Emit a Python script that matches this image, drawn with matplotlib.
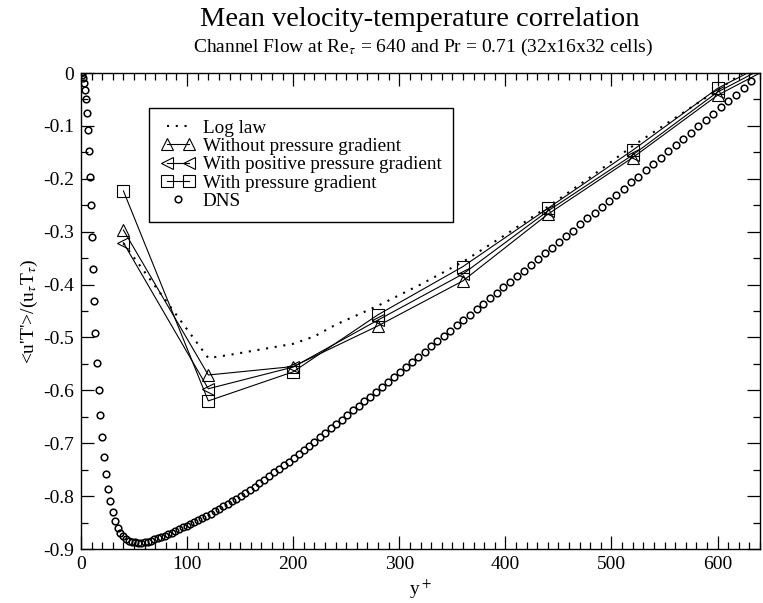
import matplotlib
matplotlib.use("Agg")
import matplotlib.pyplot as plt
from matplotlib.legend_handler import HandlerLine2D
from matplotlib.ticker import MultipleLocator

plt.rcParams["font.family"] = ["Liberation Serif", "DejaVu Serif"]
plt.rcParams["mathtext.fontset"] = "stix"
plt.rcParams["axes.unicode_minus"] = False

# LES sample positions and results
les_y = [40, 120, 200, 280, 360, 440, 520, 600, 640]
without_pg = [-0.297, -0.571, -0.555, -0.478, -0.393, -0.267, -0.160, -0.042, 0.000]
positive_pg = [-0.321, -0.597, -0.556, -0.467, -0.380, -0.261, -0.155, -0.036, 0.006]
with_pg = [-0.223, -0.620, -0.565, -0.457, -0.366, -0.256, -0.146, -0.029, 0.012]

# log law curve
log_y = [40, 120, 140, 160, 180, 200, 220, 240, 280, 320, 360, 400, 440, 480, 520, 560, 600, 640]
log_law = [-0.322, -0.539, -0.533, -0.526, -0.519, -0.512, -0.498, -0.476, -0.440, -0.400,
           -0.357, -0.306, -0.253, -0.197, -0.138, -0.085, -0.032, 0.022]

# DNS profile
dns_y = [0.0, 0.8, 1.7, 2.7, 3.6, 4.5, 5.4, 6.3, 7.2, 8.1, 9.0, 10.0, 11.1, 12.3, 13.6,
         15.0, 16.5, 18.1, 19.8, 21.6, 23.5, 25.5, 27.6, 29.8, 32.1, 34.5, 37.0, 39.6,
         42.3, 45.1, 48.0, 51.0, 54.0, 57.0, 60.0, 63.0, 66.1, 69.2, 72.4, 75.6, 78.9,
         82.2, 85.6, 89.0, 92.5, 96.0, 99.6, 103.2, 106.9, 110.6, 114.4, 118.2, 122.1,
         126.0, 130.0, 134.0, 138.1, 142.2, 146.4, 150.6, 154.9, 159.2, 163.6, 168.0,
         172.5, 177.0, 181.6, 186.2, 190.9, 195.6, 200.4, 205.2, 210.1, 215.0, 220.0,
         225.0, 230.1, 235.2, 240.4, 245.6, 250.9, 256.2, 261.6, 267.0, 272.5, 278.0,
         283.6, 289.2, 294.9, 300.6, 306.4, 312.2, 318.1, 324.0, 330.0, 336.0, 342.0,
         348.1, 354.2, 360.4, 366.6, 372.8, 379.1, 385.4, 391.8, 398.2, 404.6, 411.1,
         417.6, 424.1, 430.7, 437.3, 443.9, 450.5, 457.2, 463.9, 470.6, 477.4, 484.2,
         491.0, 497.8, 504.7, 511.6, 518.5, 525.4, 532.4, 539.4, 546.4, 553.4, 560.4,
         567.5, 574.6, 581.7, 588.8, 595.9, 603.0, 610.2, 617.4, 624.6, 631.8]
dns_uT = [0.000, -0.004, -0.010, -0.019, -0.032, -0.050, -0.075, -0.107, -0.148, -0.196,
          -0.250, -0.310, -0.371, -0.432, -0.492, -0.548, -0.600, -0.647, -0.689, -0.726,
          -0.758, -0.786, -0.810, -0.830, -0.847, -0.860, -0.869, -0.876, -0.881, -0.884,
          -0.886, -0.887, -0.888, -0.888, -0.887, -0.886, -0.884, -0.882, -0.880, -0.878,
          -0.875, -0.872, -0.869, -0.866, -0.862, -0.858, -0.856, -0.852, -0.849, -0.845,
          -0.841, -0.837, -0.833, -0.829, -0.824, -0.819, -0.815, -0.810, -0.805, -0.799,
          -0.794, -0.788, -0.782, -0.775, -0.769, -0.762, -0.755, -0.748, -0.742, -0.735,
          -0.728, -0.720, -0.713, -0.705, -0.697, -0.689, -0.681, -0.672, -0.664, -0.656,
          -0.647, -0.638, -0.630, -0.621, -0.612, -0.603, -0.594, -0.584, -0.575, -0.565,
          -0.556, -0.546, -0.537, -0.527, -0.517, -0.507, -0.497, -0.487, -0.477, -0.467,
          -0.457, -0.447, -0.436, -0.426, -0.416, -0.405, -0.395, -0.384, -0.374, -0.363,
          -0.352, -0.341, -0.330, -0.320, -0.309, -0.298, -0.286, -0.275, -0.264, -0.253,
          -0.242, -0.230, -0.219, -0.207, -0.196, -0.184, -0.172, -0.160, -0.148, -0.137,
          -0.125, -0.113, -0.101, -0.089, -0.077, -0.065, -0.053, -0.041, -0.028, -0.015]

fig = plt.figure(figsize=(7.63, 6.03), dpi=100)
ax = fig.add_axes([81 / 763, 54 / 603, 679 / 763, 476 / 603])

ax.plot(log_y, log_law, color="black", lw=1.5, linestyle=(0, (1, 3.2)), label="Log law")
les_style = dict(color="black", lw=0.8, mfc="none", mec="black", mew=0.8,
                 markevery=slice(0, -1))
ax.plot(les_y, without_pg, marker="^", ms=9, label="Without pressure gradient", **les_style)
ax.plot(les_y, positive_pg, marker="<", ms=9, label="With positive pressure gradient", **les_style)
ax.plot(les_y, with_pg, marker="s", ms=9, label="With pressure gradient", **les_style)
dns_line, = ax.plot(dns_y, dns_uT, ls="none", marker="o", ms=4.8, mfc="none", mec="black",
                    mew=1.1, label="DNS")

ax.set_xlim(0, 640)
ax.set_ylim(-0.9, 0)
ax.xaxis.set_major_locator(MultipleLocator(100))
ax.xaxis.set_minor_locator(MultipleLocator(10))
ax.yaxis.set_major_locator(MultipleLocator(0.1))
ax.yaxis.set_minor_locator(MultipleLocator(0.05))
ax.yaxis.set_major_formatter(lambda v, pos: "0" if abs(v) < 1e-9 else f"{v:.1f}")
ax.tick_params(which="both", direction="in", top=True, right=True, labelsize=14, width=0.9)
ax.tick_params(which="major", length=9.5, pad=5)
ax.tick_params(which="minor", length=5)
for sp in ax.spines.values():
    sp.set_linewidth(1.0)

ax.set_xlabel("y$^+$", fontsize=14, labelpad=3)
ax.set_ylabel("<u'T'>/(u$_\\tau$T$_\\tau$)", fontsize=14, labelpad=2)

fig.text(420 / 763, 1 - 26 / 603, "Mean velocity-temperature correlation", fontsize=20.5,
         ha="center", va="baseline")
fig.text(423 / 763, 1 - 52 / 603, "Channel Flow at Re$_\\tau$ = 640 and Pr = 0.71 (32x16x32 cells)",
         fontsize=14, ha="center", va="baseline")

leg = ax.legend(loc="upper left", bbox_to_anchor=(68.3 / 679, 441.3 / 476), borderaxespad=0,
                fontsize=13.8, numpoints=2, handlelength=1.75, handletextpad=0.45,
                labelspacing=0.05, borderpad=0.6, fancybox=False, framealpha=1,
                edgecolor="black", handler_map={dns_line: HandlerLine2D(numpoints=1)})
leg.get_frame().set_linewidth(1.0)

fig.savefig("out.png", dpi=100)
